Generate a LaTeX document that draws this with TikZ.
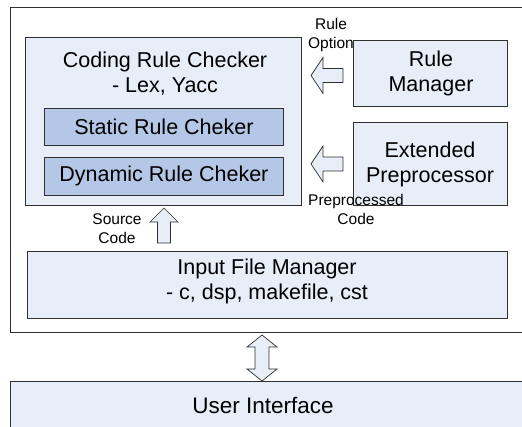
\documentclass[tikz,border=0pt]{standalone}
\usepackage{fontspec}
\setmainfont{Liberation Sans}
\definecolor{paleblue}{HTML}{E8EEF8}
\definecolor{midblue}{HTML}{B4C7E7}
\definecolor{edgegray}{HTML}{303030}
\begin{document}
\begin{tikzpicture}[x=1pt,y=-1pt,
  panel/.style={draw=edgegray, line width=0.8pt, fill=paleblue, anchor=north west, inner sep=0pt},
  subpanel/.style={panel, fill=midblue},
  maintext/.style={font=\fontsize{21.5}{25}\selectfont, align=center, inner sep=0pt},
  smalltext/.style={font=\fontsize{15.5}{19}\selectfont, align=center, inner sep=0pt},
  blockarrow/.style={draw=edgegray, line width=0.7pt, fill=paleblue, line join=miter}]
\useasboundingbox (0,0) rectangle (522,427);
\clip (0,0) rectangle (522,427);

% outer frame of the tool
\draw[edgegray, line width=0.8pt, fill=white] (10,7) rectangle (540,332);

% boxes
\node[panel, minimum width=276pt, minimum height=168pt] (crc) at (25,37) {};
\node[subpanel, minimum width=239pt, minimum height=37pt] (static) at (44,108) {};
\node[subpanel, minimum width=239pt, minimum height=38pt] (dynamic) at (44,157) {};
\node[panel, minimum width=154pt, minimum height=66pt] (rulemgr) at (353,40) {};
\node[panel, minimum width=154pt, minimum height=83pt] (extpre) at (353,122) {};
\node[panel, minimum width=480pt, minimum height=67pt] (input) at (27,251) {};
\node[panel, minimum width=530pt, minimum height=60pt] (ui) at (10,381) {};

% box texts
\node[maintext] (crctext) at (165,74) {Coding Rule Checker\\- Lex, Yacc};
\node[maintext] (statictext) at (static.center) {Static Rule Cheker};
\node[maintext] (dynamictext) at (dynamic.center) {Dynamic Rule Cheker};
\node[maintext] (rulemgrtext) at (431,73.5) {Rule\\Manager};
\node[maintext] (extpretext) at (430,164.5) {Extended\\Preprocessor};
\node[maintext] (inputtext) at (267,281.5) {Input File Manager\\- c, dsp, makefile, cst};
\node[maintext, font=\fontsize{22.5}{25}\selectfont] (uitext) at (263,405) {User Interface};

% block arrows
\draw[blockarrow] (311,75.5) -- (323,57.5) -- (323,68.5) -- (343,68.5)
  -- (343,82.5) -- (323,82.5) -- (323,93.5) -- cycle;
\draw[blockarrow] (311,164) -- (323,146) -- (323,157) -- (343,157)
  -- (343,171) -- (323,171) -- (323,182) -- cycle;
\draw[blockarrow] (164,208) -- (178,222) -- (170.5,222) -- (170.5,243)
  -- (157.5,243) -- (157.5,222) -- (150,222) -- cycle;
\draw[blockarrow] (262,335) -- (277,347) -- (269,347) -- (269,369) -- (277,369)
  -- (262,381) -- (247,369) -- (255,369) -- (255,347) -- (247,347) -- cycle;

% arrow labels
\node[smalltext] (optlabel) at (331,35) {Rule\\Option};
\node[smalltext] (prelabel) at (356,209.5) {Preprocessed\\Code};
\node[smalltext] (srclabel) at (117,229) {Source\\Code};
\end{tikzpicture}
\end{document}
